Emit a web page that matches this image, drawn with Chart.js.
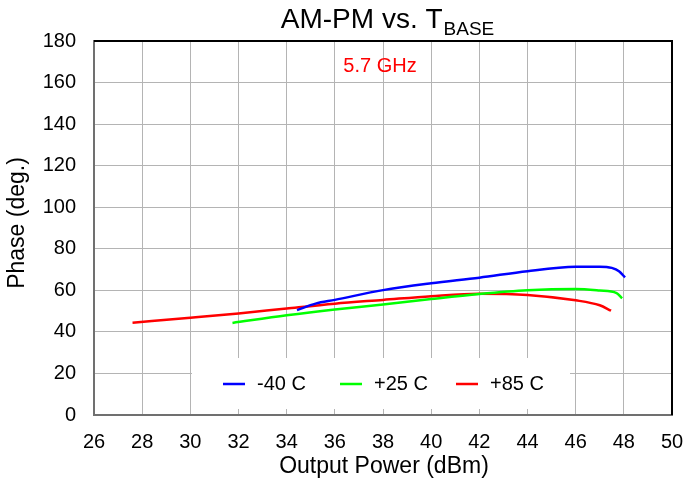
<!DOCTYPE html>
<html>
<head>
<meta charset="utf-8">
<script src="https://cdn.jsdelivr.net/npm/chart.js@4/dist/chart.umd.min.js"></script>
<style>
  html, body { margin:0; padding:0; background:#fff; }
  #wrap { width:684px; height:481px; }
</style>
</head>
<body>
<div id="wrap"><canvas id="chart" width="684" height="481"></canvas></div>
<script>
// values
const xTicks = [26, 28, 30, 32, 34, 36, 38, 40, 42, 44, 46, 48, 50];
const yTicks = [0, 20, 40, 60, 80, 100, 120, 140, 160, 180];

const seriesNames = ['-40 C', '+25 C', '+85 C'];
const seriesColors = ['#0000ff', '#00ff00', '#ff0000'];

const coldX = [34.43, 35.2, 36, 38, 40, 42, 44, 46, 47, 47.5, 47.8, 48.05];
const coldY = [50.5, 53.6, 55.4, 60.1, 63.4, 66.1, 69.2, 71.3, 71.4, 70.8, 69.2, 66.2];

const roomX = [31.75, 34, 36, 38, 40, 42, 44, 46, 47, 47.7, 47.93];
const roomY = [44.3, 48.0, 50.8, 53.2, 55.8, 58.2, 60.0, 60.6, 59.9, 58.7, 56.2];

const hotX = [27.6, 30, 32, 34, 36, 38, 40, 42, 44, 46, 47, 47.47];
const hotY = [44.4, 46.8, 48.9, 51.3, 53.6, 55.4, 57.2, 58.4, 57.8, 55.2, 52.8, 50.2];

const FONT = "'Liberation Sans', Arial, Helvetica, sans-serif";

function pts(xs, ys){ return xs.map((x, i) => ({x: x, y: ys[i]})); }

const datasets = [[coldX, coldY], [roomX, roomY], [hotX, hotY]].map((s, i) => ({
  label: seriesNames[i],
  data: pts(s[0], s[1]),
  borderColor: seriesColors[i],
  backgroundColor: seriesColors[i],
  borderWidth: 2.5,
  pointRadius: 0,
  showLine: true,
  fill: false,
  cubicInterpolationMode: 'monotone'
}));

// title, frame, inside legend and annotation
const decor = {
  id: 'decor',
  beforeDatasetsDraw(chart){
    const ctx = chart.ctx;
    // white legend box over the grid
    ctx.save();
    ctx.fillStyle = '#fff';
    ctx.fillRect(192, 358, 378, 51);
    ctx.restore();
  },
  afterDraw(chart){
    const ctx = chart.ctx, a = chart.chartArea;
    ctx.save();
    // top and right frame
    ctx.strokeStyle = '#000';
    ctx.lineWidth = 2;
    ctx.beginPath();
    ctx.moveTo(a.left, a.top); ctx.lineTo(a.right, a.top); ctx.lineTo(a.right, a.bottom);
    ctx.stroke();

    // title with subscript
    ctx.fillStyle = '#000';
    ctx.textBaseline = 'alphabetic';
    ctx.textAlign = 'left';
    ctx.font = '28px ' + FONT;
    const main = 'AM-PM vs. T';
    const mw = ctx.measureText(main).width;
    ctx.font = '19px ' + FONT;
    const sw = ctx.measureText('BASE').width;
    const x0 = 387 - (mw + sw) / 2;
    ctx.font = '28px ' + FONT;
    ctx.fillText(main, x0, 28);
    ctx.font = '19px ' + FONT;
    ctx.fillText('BASE', x0 + mw + 1, 35);

    // frequency note
    ctx.fillStyle = '#ff0000';
    ctx.font = '20px ' + FONT;
    ctx.textAlign = 'center';
    ctx.textBaseline = 'middle';
    ctx.fillText('5.7 GHz', 380, 66);

    // axis titles
    ctx.fillStyle = '#000';
    ctx.font = '23px ' + FONT;
    ctx.fillText('Output Power (dBm)', 384, 467);
    ctx.save();
    ctx.translate(18, 223);
    ctx.rotate(-Math.PI / 2);
    ctx.fillText('Phase (deg.)', 0, 0);
    ctx.restore();

    // legend
    const lx = [223, 340, 456];
    ctx.font = '20px ' + FONT;
    ctx.textAlign = 'left';
    chart.data.datasets.forEach((d, i) => {
      ctx.strokeStyle = d.borderColor;
      ctx.lineWidth = 2.5;
      ctx.beginPath();
      ctx.moveTo(lx[i], 384); ctx.lineTo(lx[i] + 22, 384);
      ctx.stroke();
      ctx.fillStyle = '#000';
      ctx.fillText(d.label, lx[i] + 34, 384);
    });
    ctx.restore();
  }
};

new Chart(document.getElementById('chart'), {
  type: 'scatter',
  data: { datasets: datasets },
  options: {
    responsive: false,
    animation: false,
    layout: { padding: { top: 41, right: 12, left: 0, bottom: 0 } },
    plugins: { legend: { display: false }, title: { display: false }, tooltip: { enabled: false } },
    scales: {
      x: {
        type: 'linear', min: 26, max: 50,
        afterBuildTicks: s => { s.ticks = xTicks.map(v => ({value: v})); },
        afterFit: s => { s.height = 66; s.paddingLeft = 0; s.paddingRight = 0; },
        grid: { color: '#b4b4b4', lineWidth: 1, drawTicks: false },
        border: { color: '#707070', width: 2 },
        ticks: { color: '#000', font: { family: FONT, size: 20 }, padding: 15, maxRotation: 0 }
      },
      y: {
        type: 'linear', min: 0, max: 180,
        afterBuildTicks: s => { s.ticks = yTicks.map(v => ({value: v})); },
        afterFit: s => { s.width = 94; s.paddingTop = 0; s.paddingBottom = 0; },
        grid: { color: '#b4b4b4', lineWidth: 1, drawTicks: false },
        border: { color: '#707070', width: 2 },
        ticks: { color: '#000', font: { family: FONT, size: 20 }, padding: 18 }
      }
    }
  },
  plugins: [decor]
});
</script>
</body>
</html>
